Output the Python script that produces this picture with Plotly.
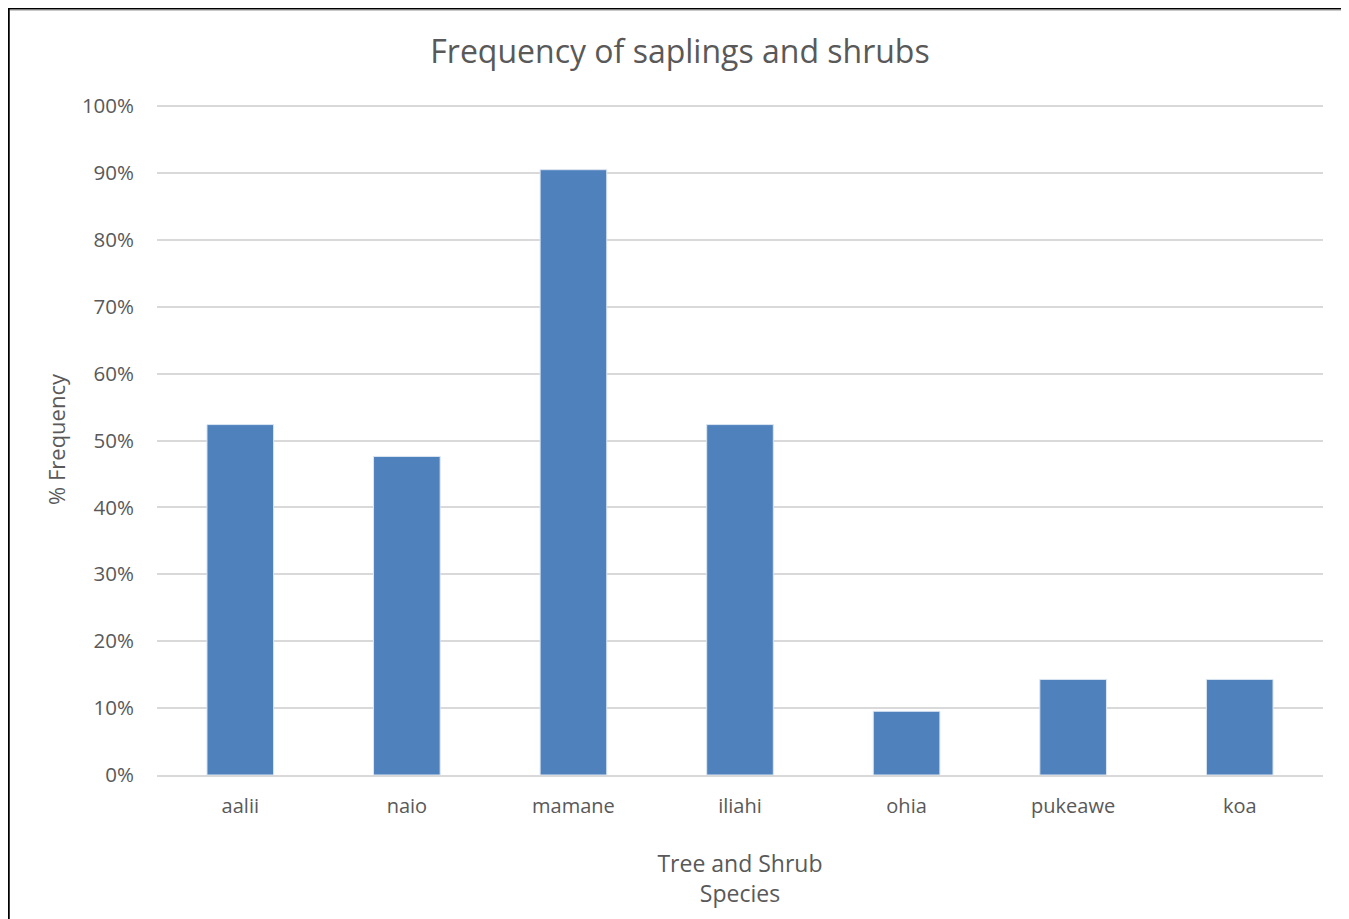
import plotly.graph_objects as go

# ---- data ----
species = ["aalii", "naio", "mamane", "iliahi", "ohia", "pukeawe", "koa"]
frequency = [0.5238, 0.4762, 0.9048, 0.5238, 0.0952, 0.1429, 0.1429]
y_tick_vals = [0, 0.1, 0.2, 0.3, 0.4, 0.5, 0.6, 0.7, 0.8, 0.9, 1.0]
y_tick_text = ["0%", "10%", "20%", "30%", "40%", "50%", "60%", "70%", "80%", "90%", "100%"]

# page is rendered with an 8px body margin, so the figure starts at page (8, 8)
OFF = 8
W, H = 1349 - OFF, 919 - OFF
ML, MR, MT, MB = 157 - OFF, 26, 104 - OFF, 144
PW = W - ML - MR
PH = H - MT - MB
FONT = "Open Sans"
TXT = "#595959"


def px(x):
    """figure pixel x -> paper"""
    return (x - ML) / PW


def py(y):
    """figure pixel y -> paper"""
    return (H - MB - y) / PH


fig = go.Figure(
    go.Bar(
        x=species,
        y=frequency,
        marker=dict(color="#4F81BD", line=dict(color="#DCE6F2", width=1)),
        hoverinfo="x+y",
    )
)

shapes = [
    # light grey line under the top border
    dict(type="line", xref="paper", yref="paper",
         x0=px(2), x1=px(W + 5), y0=py(2.5), y1=py(2.5),
         line=dict(color="#C8C8C8", width=1)),
    # black frame (top and left)
    dict(type="line", xref="paper", yref="paper",
         x0=px(0), x1=px(W + 5), y0=py(0), y1=py(0),
         line=dict(color="#000000", width=3)),
    dict(type="line", xref="paper", yref="paper",
         x0=px(0), x1=px(0), y0=py(0), y1=py(H + 5),
         line=dict(color="#000000", width=3.5)),
]

fig.update_layout(
    width=W, height=H, autosize=False,
    margin=dict(l=ML, r=MR, t=MT, b=MB),
    paper_bgcolor="white", plot_bgcolor="white",
    font=dict(family=FONT, color=TXT),
    title=dict(text="Frequency of saplings and shrubs", x=(680 - OFF) / W, xref="container",
               y=1 - (52 - OFF) / H, yref="container", xanchor="center", yanchor="middle",
               font=dict(family=FONT, size=32, color=TXT)),
    bargap=0.6,
    showlegend=False,
    shapes=shapes,
    xaxis=dict(
        showgrid=False, showline=True, linecolor="#D9D9D9", linewidth=1.5,
        ticks="", tickfont=dict(size=20, color=TXT), ticklabelstandoff=12,
        title=dict(text="Tree and Shrub<br>Species", font=dict(size=23, color=TXT), standoff=38),
    ),
    yaxis=dict(
        range=[0, 1.003], tickvals=y_tick_vals, ticktext=y_tick_text,
        showgrid=True, gridcolor="#D9D9D9", gridwidth=1.5, zeroline=False,
        ticks="", tickfont=dict(size=20.5, color=TXT), ticklabelstandoff=22,
        title=dict(text="% Frequency", font=dict(size=22, color=TXT), standoff=10),
    ),
)

fig.write_html("out.html")
